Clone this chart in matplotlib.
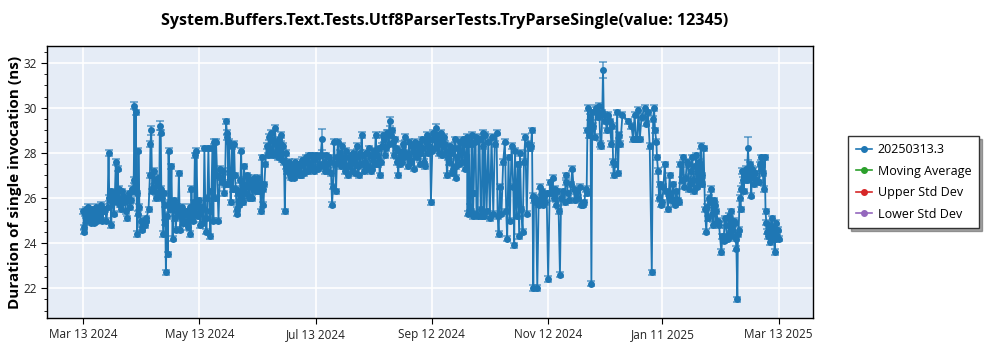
import matplotlib
matplotlib.use("Agg")
import matplotlib.pyplot as plt
import matplotlib.dates as mdates
from matplotlib.lines import Line2D
import pandas as pd

# ---------------- data (day offset from 2024-03-13, duration in ns) ----------------
start_date = "2024-03-13"

seg_mar_may = [
    (0.0, 25.4), (0.3, 24.7), (0.6, 24.5), (1.0, 25.3), (1.4, 25.0), (1.7, 25.5), (2.1, 25.2), (2.4, 25.6),
    (2.9, 25.1), (3.5, 25.3), (3.9, 24.9), (4.5, 25.5), (5.0, 25.2), (5.6, 24.9), (6.1, 25.4), (6.6, 25.6),
    (7.1, 25.0), (7.7, 25.3), (8.2, 25.5), (8.7, 25.2), (9.3, 25.7), (10.1, 25.0), (10.7, 25.4), (11.5, 25.5),
    (12.2, 25.0), (12.8, 25.6), (13.3, 28.0), (13.7, 26.0), (14.0, 25.9), (14.4, 26.3), (14.7, 24.8), (15.1, 26.0),
    (15.4, 26.2), (16.1, 25.3), (16.6, 26.1), (17.1, 27.6), (17.6, 25.8), (18.2, 27.3), (18.5, 26.0), (18.9, 26.4),
    (19.4, 25.7), (19.9, 25.5), (20.5, 26.3), (21.0, 26.1), (21.5, 25.8), (22.0, 26.0), (22.5, 25.4), (23.1, 25.1),
    (23.6, 25.9), (24.1, 26.2), (24.6, 25.6), (25.0, 25.9), (25.5, 26.4), (26.0, 26.3), (26.5, 26.8), (26.9, 30.1),
    (27.3, 26.5), (27.6, 29.8), (28.0, 26.2), (28.3, 24.4), (28.7, 25.3), (29.0, 28.1), (29.5, 25.6), (30.1, 25.0),
    (30.6, 24.6), (31.1, 24.7), (31.7, 24.9), (32.2, 24.8), (32.7, 25.0), (33.2, 25.1), (34.3, 25.5), (35.0, 27.0),
    (35.3, 28.4), (35.7, 29.0), (36.2, 26.3), (36.7, 26.5), (37.2, 27.2), (37.8, 26.8), (38.2, 26.0), (38.6, 26.2),
    (39.0, 26.9), (39.5, 26.6), (39.9, 26.1), (40.2, 29.2), (40.7, 28.9), (41.0, 26.4), (41.3, 26.0), (42.0, 24.4),
    (42.4, 26.2), (42.7, 25.7), (43.1, 24.9), (43.4, 22.7), (44.0, 25.2), (44.4, 23.5), (44.8, 28.1), (45.3, 25.8),
    (45.8, 25.5), (46.3, 27.4), (46.9, 24.2), (47.4, 25.9), (47.9, 25.8), (48.3, 25.1), (48.6, 24.6), (49.2, 25.6),
    (49.7, 25.3), (50.2, 27.1), (50.6, 25.4), (51.0, 24.6), (51.6, 25.2), (52.1, 25.6), (52.6, 24.9), (53.1, 24.9),
    (53.7, 25.3), (54.2, 25.4), (54.7, 25.0), (55.2, 24.7), (55.8, 25.6), (56.3, 24.4), (56.8, 26.4), (57.2, 25.2),
    (57.7, 25.0), (58.2, 25.8), (58.6, 27.9), (59.0, 25.3), (59.4, 28.1), (60.0, 25.7), (60.5, 25.2), (61.0, 25.9),
    (61.5, 24.8), (62.1, 25.5), (62.6, 25.6), (63.1, 24.9), (63.6, 28.2), (64.2, 25.1), (64.7, 24.5), (65.2, 26.0),
    (65.7, 28.2), (66.3, 25.4), (66.8, 24.3), (67.3, 26.3), (67.8, 28.2), (68.3, 25.0), (68.7, 28.5), (69.2, 26.0),
]

seg_may_jul = [
    (69.7, 28.5), (70.3, 27.0), (71.0, 25.0), (71.8, 27.3), (72.3, 26.9), (72.9, 26.7), (73.4, 27.2), (73.9, 26.2),
    (74.4, 26.6), (75.0, 29.4), (75.4, 28.9), (75.7, 28.7), (76.2, 26.6), (76.6, 28.5), (77.0, 26.9), (77.4, 25.8),
    (78.1, 28.3), (78.6, 26.4), (79.2, 28.4), (79.6, 27.0), (80.1, 26.4), (80.5, 25.3), (80.9, 25.5), (81.4, 26.2),
    (82.0, 25.7), (82.5, 26.8), (82.9, 28.1), (83.3, 26.0), (83.6, 25.8), (84.0, 26.5), (84.4, 27.4), (85.0, 26.2),
    (85.5, 26.5), (86.0, 27.0), (86.4, 26.9), (86.8, 26.0), (87.2, 26.1), (87.8, 26.6), (88.3, 26.8), (88.8, 26.0),
    (89.3, 26.4), (89.8, 26.9), (90.4, 26.7), (90.9, 26.3), (91.4, 26.5), (91.9, 26.9), (92.5, 26.3), (92.9, 26.6),
    (93.2, 25.4), (93.7, 27.8), (94.1, 26.4), (94.6, 25.7), (95.1, 26.6), (95.6, 27.5), (96.3, 28.3), (96.8, 27.9),
    (97.4, 28.7), (97.8, 28.0), (98.1, 28.2), (98.6, 28.9), (99.1, 28.6), (99.5, 27.9), (99.8, 28.0), (100.3, 28.5),
    (100.7, 29.1), (101.2, 28.0), (101.6, 28.3), (102.1, 27.8), (102.6, 28.6), (103.0, 28.2), (103.3, 27.9), (103.7, 28.4),
    (104.0, 28.8), (104.5, 27.7), (104.9, 28.3), (105.4, 27.6), (105.8, 25.4), (106.2, 27.4), (106.5, 28.0), (106.9, 27.3),
    (107.2, 27.2), (107.7, 27.5), (108.2, 27.6), (108.7, 27.0), (109.3, 26.9), (109.8, 27.4), (110.3, 27.3), (110.8, 26.9),
    (111.4, 27.6), (111.9, 27.2), (112.4, 27.1), (112.9, 27.5), (113.5, 27.4), (114.0, 27.0), (114.5, 27.0), (115.0, 27.7),
    (115.5, 27.5), (116.0, 27.1), (116.6, 27.2), (117.1, 27.8), (117.6, 27.6), (118.1, 27.2), (118.7, 27.9), (119.2, 27.3),
]

seg_jul_sep = [
    (119.7, 27.4), (120.3, 27.9), (120.8, 27.7), (121.3, 27.2), (121.8, 27.3), (122.4, 27.9), (122.9, 27.8), (123.4, 27.3),
    (123.9, 27.5), (124.6, 27.9), (125.3, 28.6), (125.9, 27.4), (126.4, 27.6), (126.9, 27.2), (127.4, 27.9), (128.0, 27.5),
    (128.5, 27.2), (129.0, 27.8), (129.5, 27.6), (130.1, 27.1), (130.6, 25.7), (131.1, 26.5), (131.6, 28.5), (132.2, 27.5),
    (132.7, 26.3), (133.2, 27.8), (133.7, 28.5), (134.3, 27.6), (134.8, 28.0), (135.3, 27.4), (135.8, 28.3), (136.4, 27.5),
    (136.9, 27.8), (137.4, 27.2), (137.9, 28.1), (138.5, 27.4), (139.0, 27.0), (139.5, 27.8), (140.0, 27.4), (140.5, 27.9),
    (141.0, 27.2), (141.5, 28.0), (142.0, 27.6), (142.5, 27.1), (143.0, 27.8), (143.5, 28.3), (144.0, 27.4), (144.5, 27.0),
    (145.1, 28.0), (145.6, 27.5), (146.1, 28.8), (146.6, 27.9), (147.2, 27.2), (147.7, 27.6), (148.2, 28.0), (148.7, 27.3),
    (149.3, 27.4), (149.8, 28.2), (150.3, 27.9), (150.8, 27.2), (151.4, 27.3), (151.9, 27.7), (152.4, 28.1), (152.9, 27.5),
    (153.5, 28.8), (154.0, 27.9), (154.5, 27.5), (155.0, 28.2), (155.6, 27.0), (156.1, 27.6), (156.6, 28.3), (157.2, 28.8),
    (157.7, 28.6), (158.2, 27.9), (158.7, 28.2), (159.2, 28.9), (159.8, 28.9), (160.3, 28.4), (160.8, 29.4), (161.4, 28.8),
    (161.9, 29.0), (162.4, 28.5), (162.9, 27.9), (163.5, 28.6), (164.0, 28.2), (164.5, 27.6), (165.0, 27.7), (165.4, 27.0),
    (165.7, 28.1), (166.2, 27.5), (166.8, 28.0), (167.3, 27.6), (167.8, 28.4), (168.4, 27.8), (168.9, 28.7), (169.4, 28.0),
    (169.9, 27.9), (170.5, 27.4), (171.0, 28.5), (171.5, 27.7), (172.0, 27.6), (172.6, 28.3), (173.1, 28.1), (173.6, 27.3),
    (174.1, 28.5), (174.7, 28.0), (175.2, 27.8), (175.7, 28.3), (176.2, 28.4), (176.8, 27.5), (177.3, 28.0), (177.8, 28.6),
    (178.3, 28.2), (178.9, 27.6), (179.4, 27.4), (179.9, 28.5), (180.4, 28.8), (181.0, 28.0), (181.5, 28.3), (182.0, 28.6),
]

seg_sep_nov = [
    (182.5, 25.8), (183.2, 28.1), (183.7, 28.9), (184.3, 28.6), (184.8, 28.2), (185.3, 29.1), (185.9, 28.4), (186.4, 28.8),
    (186.9, 28.0), (187.4, 28.5), (187.9, 28.9), (188.4, 27.9), (189.0, 28.3), (189.5, 28.7), (190.0, 28.4), (190.5, 28.1),
    (190.9, 27.0), (191.5, 27.8), (192.0, 27.6), (192.5, 28.3), (193.0, 28.0), (193.5, 27.1), (194.0, 27.3), (194.6, 28.2),
    (195.1, 28.6), (195.5, 27.4), (195.8, 26.9), (196.3, 27.8), (196.8, 28.2), (197.4, 27.5), (197.9, 28.5), (198.4, 28.0),
    (198.9, 27.6), (199.5, 28.6), (200.0, 28.4), (200.5, 27.3), (201.0, 27.8), (201.4, 28.7), (201.7, 25.3), (202.0, 28.4),
    (202.4, 28.5), (202.9, 25.6), (203.5, 25.4), (203.8, 28.8), (204.2, 28.4), (204.6, 25.2), (204.9, 26.2), (205.4, 28.5),
    (205.9, 28.7), (206.4, 25.3), (207.0, 25.2), (207.5, 28.6), (208.0, 28.6), (208.6, 25.5), (209.1, 25.2), (209.6, 28.9),
    (210.0, 28.3), (210.4, 25.2), (210.9, 28.8), (211.7, 25.4), (212.6, 28.5), (213.4, 25.1), (214.3, 28.7), (215.2, 25.3),
    (216.0, 28.4), (216.9, 28.9), (217.5, 25.2), (218.0, 24.4), (218.7, 26.5), (219.5, 25.3), (220.4, 27.6), (221.3, 28.5),
    (222.0, 25.4), (222.5, 24.2), (223.2, 27.8), (223.9, 25.0), (224.8, 28.3), (225.7, 26.5), (226.2, 23.9), (226.6, 28.1),
    (227.4, 25.2), (228.1, 27.5), (228.8, 24.3), (229.2, 28.0), (229.9, 25.5), (230.6, 24.5), (231.3, 27.6), (232.0, 28.7),
    (232.8, 25.3), (233.6, 28.4), (234.4, 28.2), (235.0, 28.3), (235.5, 29.0), (235.8, 26.1), (236.2, 22.0), (236.6, 25.9),
    (237.0, 26.0), (237.6, 25.8), (238.3, 22.0), (239.0, 25.7), (239.7, 26.5), (240.2, 25.9), (240.7, 26.3), (241.3, 25.7),
]

seg_nov_jan = [
    (241.9, 26.1), (242.5, 25.8), (243.2, 26.2), (244.0, 22.4), (244.9, 26.7), (245.6, 26.2), (246.3, 26.9), (246.9, 26.0),
    (247.5, 26.4), (248.2, 25.7), (248.8, 26.3), (249.5, 25.4), (250.2, 22.6), (250.8, 26.0), (251.8, 26.3), (252.6, 25.8),
    (253.3, 27.0), (253.6, 26.7), (254.5, 26.2), (255.2, 25.9), (256.0, 26.6), (256.7, 27.3), (257.4, 26.4), (258.0, 25.9),
    (258.8, 26.3), (259.6, 26.0), (260.6, 26.5), (261.4, 25.7), (262.3, 25.7), (263.0, 25.8), (263.7, 26.4), (264.2, 26.2),
    (264.6, 29.0), (265.0, 30.0), (265.5, 28.8), (266.2, 29.6), (266.7, 22.2), (267.2, 29.8), (267.6, 29.2), (268.5, 28.7),
    (269.0, 29.9), (269.3, 30.0), (270.0, 29.6), (270.7, 30.1), (271.4, 28.4), (271.9, 28.3), (272.4, 29.8), (272.8, 31.7),
    (273.2, 29.7), (274.1, 29.4), (274.9, 29.0), (275.6, 29.7), (276.3, 29.4), (277.2, 28.4), (277.7, 29.2), (278.1, 27.6),
    (278.4, 27.0), (279.3, 27.5), (280.2, 29.8), (280.7, 27.1), (281.2, 28.8), (281.9, 28.4), (283.0, 29.7), (285.9, 29.4),
    (287.7, 29.2), (288.6, 28.6), (289.4, 29.7), (290.1, 28.6), (290.7, 28.6), (291.4, 29.9), (292.1, 28.6), (293.0, 29.6),
    (294.7, 30.0), (295.6, 29.3), (296.4, 29.8), (297.3, 28.3), (298.4, 22.7), (299.1, 29.5), (299.6, 30.0), (300.1, 29.0),
    (300.8, 28.5), (301.1, 27.8), (301.7, 27.2), (302.2, 26.0), (302.9, 26.6), (303.4, 25.7), (303.9, 25.8),
]

seg_jan_mar = [
    (304.5, 26.5), (305.2, 27.5), (306.0, 26.3), (306.9, 25.5), (307.3, 26.2), (307.8, 27.0), (308.3, 25.9), (308.7, 26.0),
    (309.5, 26.6), (310.0, 25.8), (310.4, 25.7), (311.3, 26.3), (312.0, 25.9), (312.7, 25.8), (313.4, 27.5), (314.1, 26.8),
    (314.8, 27.8), (315.5, 26.5), (316.2, 26.9), (316.8, 27.6), (317.4, 27.5), (318.0, 26.4), (318.6, 26.6), (319.2, 27.2),
    (319.7, 27.8), (320.2, 26.8), (320.7, 26.3), (321.3, 27.4), (321.8, 27.9), (322.2, 26.5), (322.7, 27.2), (323.1, 27.6),
    (323.5, 26.7), (324.1, 28.3), (324.5, 27.0), (324.9, 26.6), (325.6, 28.2), (326.3, 25.5), (327.0, 24.5), (327.5, 25.6),
    (327.9, 25.1), (328.3, 26.0), (328.8, 25.8), (329.6, 26.4), (330.0, 25.3), (330.5, 24.8), (331.0, 25.9), (331.4, 25.7),
    (331.9, 24.9), (332.3, 25.4), (333.0, 25.0), (333.7, 24.8), (334.9, 23.6), (335.5, 24.3), (336.1, 24.1), (336.7, 25.1),
    (337.2, 24.8), (337.8, 24.3), (338.4, 24.2), (338.9, 25.2), (339.3, 25.1), (339.7, 24.4), (340.1, 25.4), (340.6, 24.6),
    (341.0, 24.3), (341.5, 25.0), (341.9, 24.9), (342.4, 24.2), (342.8, 23.75), (343.3, 21.5), (343.6, 24.4), (344.0, 24.6),
    (344.5, 26.0), (345.0, 25.5), (345.4, 26.4), (345.9, 27.2), (346.3, 26.8), (346.6, 26.3), (347.1, 27.0), (347.6, 27.3),
    (348.2, 26.8), (348.9, 28.2), (349.4, 27.2), (349.8, 26.9), (350.1, 27.5), (350.6, 26.1), (351.0, 27.3), (351.5, 27.2),
    (352.0, 26.6), (352.4, 27.1), (353.5, 26.8), (354.6, 26.7), (355.0, 27.5), (355.5, 27.3), (355.9, 27.8), (356.3, 27.5),
    (356.7, 27.1), (357.1, 26.4), (357.6, 27.8), (358.1, 25.4), (358.5, 24.9), (358.8, 24.5), (359.3, 24.3), (359.9, 24.8),
    (360.3, 24.4), (360.6, 24.05), (361.0, 24.6), (361.3, 25.1), (361.7, 24.4), (362.0, 24.2), (362.4, 24.7), (362.9, 23.6),
    (363.4, 24.9), (363.8, 24.2), (364.1, 24.3), (364.5, 24.6), (365.1, 24.2),
]

# typical half-width of the error bars, and the few visibly larger ones
base_error = 0.12
large_error_days = [26.9, 35.7, 40.2, 125.3, 160.8, 185.3, 272.8, 348.9]
large_error_sizes = [0.15, 0.2, 0.2, 0.45, 0.2, 0.2, 0.36, 0.5]

tick_dates = ["2024-03-13", "2024-05-13", "2024-07-13", "2024-09-12",
              "2024-11-12", "2025-01-11", "2025-03-13"]
x_limits = ["2024-02-23", "2025-03-31"]
y_limits = (20.67, 32.75)

title = "System.Buffers.Text.Tests.Utf8ParserTests.TryParseSingle(value: 12345)"
y_label = "Duration of single invocation (ns)"
legend_labels = ["20250313.3", "Moving Average", "Upper Std Dev", "Lower Std Dev"]
legend_colors = ["#1f77b4", "#2ca02c", "#d62728", "#9467bd"]

# ---------------- build ----------------
points = seg_mar_may + seg_may_jul + seg_jul_sep + seg_sep_nov + seg_nov_jan + seg_jan_mar
days = [p[0] for p in points]
values = [p[1] for p in points]
base = pd.Timestamp(start_date)
dates = [base + pd.Timedelta(days=d) for d in days]
err_lookup = dict(zip(large_error_days, large_error_sizes))
errors = [err_lookup.get(d, base_error) for d in days]

plt.rcParams["font.family"] = ["Open Sans", "DejaVu Sans"]

fig = plt.figure(figsize=(10, 3.5), dpi=100)
ax = fig.add_axes([0.047, 0.0914, 0.766, 0.7772])
ax.set_facecolor("#e5ecf6")
ax.set_axisbelow(True)
ax.grid(True, which="major", color="white", linewidth=1.2)

blue = legend_colors[0]
ax.errorbar(dates, values, yerr=errors, fmt="none", ecolor=blue, alpha=0.6,
            elinewidth=1.3, capsize=3, capthick=1.3, zorder=2)
ax.plot(dates, values, color=blue, linewidth=1.3, marker="o", markersize=5,
        markeredgewidth=0, zorder=3)

ax.set_xlim(pd.Timestamp(x_limits[0]), pd.Timestamp(x_limits[1]))
ax.set_ylim(*y_limits)
ax.set_xticks([pd.Timestamp(t) for t in tick_dates])
ax.xaxis.set_major_formatter(mdates.DateFormatter("%b %d %Y"))
ax.set_yticks([22, 24, 26, 28, 30, 32])
ax.yaxis.set_minor_locator(matplotlib.ticker.MultipleLocator(0.5))
ax.tick_params(axis="both", which="major", labelsize=8.5, length=4, color="black", labelcolor="#222222")
ax.tick_params(axis="y", which="minor", length=2.5)
for s in ax.spines.values():
    s.set_color("black")
    s.set_linewidth(1.0)

ax.set_title(title, fontsize=11.6, fontweight="bold", pad=15, x=0.519)
ax.set_ylabel(y_label, fontsize=11, fontweight="bold", labelpad=1)

handles = [Line2D([0], [0], color=c, marker="o", markersize=4, linewidth=1.2) for c in legend_colors]
leg = fig.legend(handles, legend_labels, loc="upper left", bbox_to_anchor=(0.842, 0.63),
                 fontsize=9, frameon=True, fancybox=False, shadow=True, edgecolor="#333333",
                 handlelength=1.3, handletextpad=0.45, borderpad=0.6, labelspacing=0.68)
leg.get_frame().set_linewidth(1.0)

fig.savefig("out.png", dpi=100)
